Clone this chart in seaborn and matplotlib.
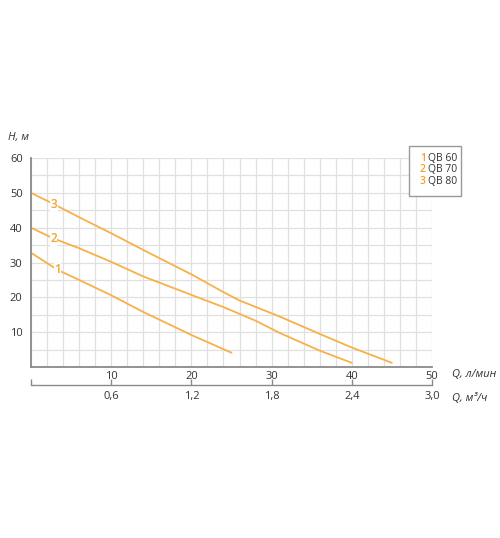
import matplotlib
matplotlib.use("Agg")
import matplotlib.pyplot as plt
import seaborn as sns
import pandas as pd
import numpy as np
from matplotlib.patches import Rectangle

# Data (Q in l/min, H in m)
q1 = [0, 3.3, 6, 10, 14, 20, 25]
h1 = [32.8, 27.9, 25.0, 20.6, 15.8, 9.2, 4.1]
q2 = [0, 2.8, 6, 10, 14, 20, 24, 28, 31, 36, 40]
h2 = [40, 36.9, 34.1, 30.2, 26.0, 20.7, 17.2, 13.3, 9.8, 4.7, 1.2]
q3 = [0, 2.9, 6, 10, 14, 20, 24, 26, 31, 36, 40, 45]
h3 = [50, 46.7, 43.0, 38.4, 33.6, 26.6, 21.5, 19.1, 14.5, 9.5, 5.6, 1.2]
models = ["QB 60", "QB 70", "QB 80"]
curve_ids = ["1", "2", "3"]
label_pos_q = [3.3, 2.8, 2.9]  # where number labels sit on curves
x_ticks = [10, 20, 30, 40, 50]
y_ticks = [10, 20, 30, 40, 50, 60]
m3h_labels = ["0,6", "1,2", "1,8", "2,4", "3,0"]

sns.set_theme(style="white")
plt.rcParams["font.family"] = ["Open Sans", "DejaVu Sans"]

ORANGE = "#F7B04A"
ORANGE_TXT = "#F5A02A"
TXT = "#333333"

fig = plt.figure(figsize=(5.0, 5.38), dpi=100)
ax = fig.add_axes([0.062, 0.3178, 0.802, 0.3885])

frames = []
for qs, hs, cid in zip([q1, q2, q3], [h1, h2, h3], curve_ids):
    frames.append(pd.DataFrame({"Q": qs, "H": hs, "curve": cid}))
df = pd.concat(frames, ignore_index=True)

sns.lineplot(data=df, x="Q", y="H", hue="curve", units="curve", estimator=None,
             sort=False, palette=[ORANGE] * 3, linewidth=1.3, legend=False, ax=ax)

for qs, hs, cid, lq in zip([q1, q2, q3], [h1, h2, h3], curve_ids, label_pos_q):
    lh = float(np.interp(lq, qs, hs))
    ax.text(lq, lh, cid, color=ORANGE_TXT, fontsize=8.5, fontweight="semibold",
            ha="center", va="center",
            bbox=dict(boxstyle="square,pad=0.05", fc="white", ec="none"), zorder=5)

ax.set_xlim(0, 50)
ax.set_ylim(0, 60)
ax.set_xticks(np.arange(0, 51, 2), minor=True)
ax.set_yticks(np.arange(0, 61, 5), minor=True)
ax.set_xticks(x_ticks)
ax.set_yticks(y_ticks)
ax.grid(which="both", color="#e0e0e0", linewidth=0.9)
ax.set_axisbelow(True)
ax.tick_params(axis="both", which="both", length=0, labelsize=8, colors=TXT)
ax.tick_params(axis="x", pad=3)
ax.tick_params(axis="y", pad=6)
ax.set_xlabel("")
ax.set_ylabel("")
for s in ["top", "right"]:
    ax.spines[s].set_visible(False)
for s in ["left", "bottom"]:
    ax.spines[s].set_color("#8a8a8a")
    ax.spines[s].set_linewidth(1.3)

sec = ax.secondary_xaxis(-0.086)
sec.set_xticks([0] + x_ticks)
sec.set_xticklabels([""] + m3h_labels)
sec.tick_params(axis="x", direction="in", length=4, width=1, colors="#8a8a8a",
                labelcolor=TXT, labelsize=8, pad=4)
sec.spines["bottom"].set_color("#8a8a8a")
sec.spines["bottom"].set_linewidth(1)

fig.text(0.016, 0.745, "H, м", fontsize=8, style="italic", color=TXT, va="center")
fig.text(0.903, 0.303, "Q, л/мин", fontsize=8, style="italic", color=TXT, va="center")
fig.text(0.903, 0.26, "Q, м³/ч", fontsize=8, style="italic", color=TXT, va="center")

# legend box
fig.patches.append(Rectangle((0.818, 0.6357), 0.104, 0.093, transform=fig.transFigure,
                             fill=True, fc="white", ec="#999999", lw=1.0))
for i, (cid, name) in enumerate(zip(curve_ids, models)):
    y = 0.7063 - i * 0.0215
    fig.text(0.84, y, cid, fontsize=7.5, color=ORANGE_TXT, fontweight="semibold", va="center")
    fig.text(0.856, y, name, fontsize=7.5, color=TXT, va="center")

fig.savefig("out.png", dpi=100)
